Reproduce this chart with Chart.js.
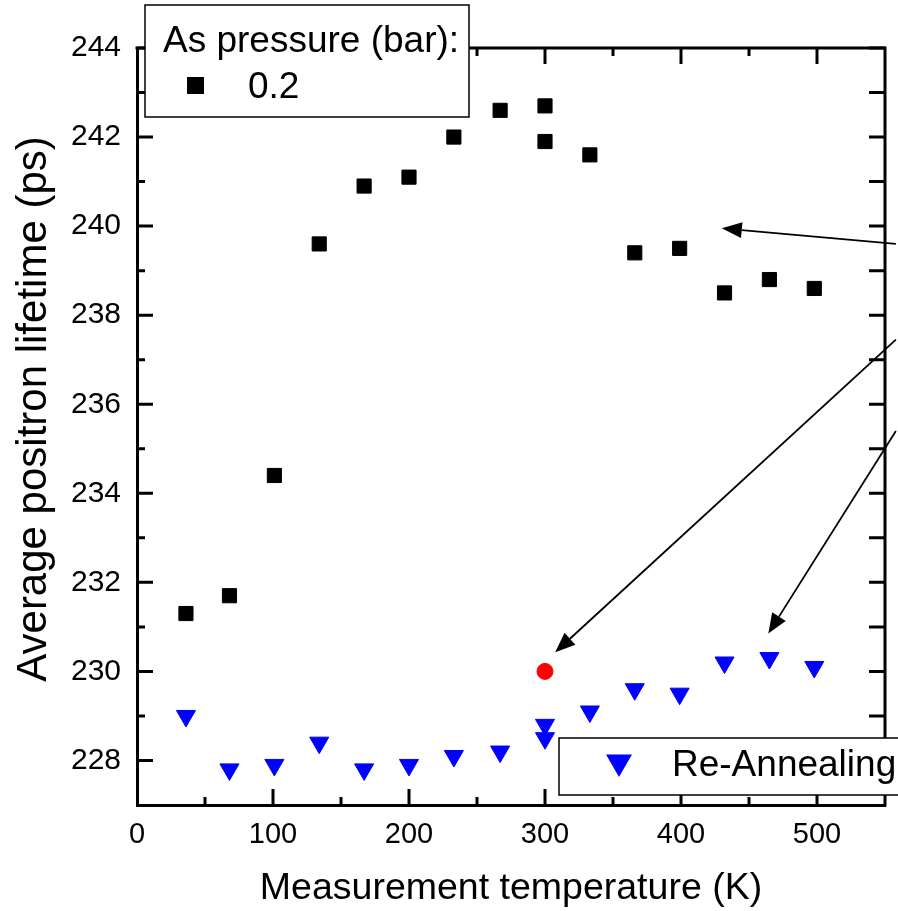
<!DOCTYPE html>
<html>
<head>
<meta charset="utf-8">
<script src="https://cdn.jsdelivr.net/npm/chart.js@4"></script>
<style>
  html, body { margin: 0; padding: 0; background: #fff; overflow: hidden; }
  canvas { display: block; }
</style>
</head>
<body>
<canvas id="lifetimeChart" width="898" height="911"></canvas>
<script>
// data
const temperatures = [36, 68, 101, 134, 167, 200, 233, 267, 300, 300, 333, 366, 399, 432, 465, 498];
const lifetimeAsPressure = [231.3, 231.7, 234.4, 239.6, 240.9, 241.1, 242.0, 242.6, 242.7, 241.9, 241.6, 239.4, 239.5, 238.5, 238.8, 238.6];
const lifetimeReAnnealing = [229.0, 227.8, 227.9, 228.4, 227.8, 227.9, 228.1, 228.2, 228.8, 228.5, 229.1, 229.6, 229.5, 230.2, 230.3, 230.1];
const markedTemperature = [300];
const markedLifetime = [230.0];

const xTicks = [0, 100, 200, 300, 400, 500];
const yTicks = [228, 230, 232, 234, 236, 238, 240, 242, 244];

// arrows coming in from the annotation on the right (data units)
const arrows = [
  { from: [558, 239.6], to: [430, 239.95] },
  { from: [558, 237.45], to: [307.5, 230.43] },
  { from: [558, 235.4], to: [464.2, 230.85] },
];

const FONT = "'Liberation Sans', Arial, sans-serif";

function toPoints(xs, ys) {
  return xs.map((x, i) => ({ x: x, y: ys[i] }));
}

// top/right frame + inward tick marks
const frameTicks = {
  id: "frameTicks",
  beforeDatasetsDraw(chart) {
    const { ctx, chartArea: a, scales } = chart;
    const xs = scales.x, ys = scales.y;
    ctx.save();
    ctx.strokeStyle = "#000";
    ctx.lineWidth = 3;
    ctx.beginPath();
    ctx.moveTo(a.left - 1.5, a.top);
    ctx.lineTo(a.right, a.top);
    ctx.lineTo(a.right, a.bottom + 1.5);
    ctx.stroke();
    ctx.beginPath();
    xs.ticks.forEach((t) => {
      if (t.value <= xs.min || t.value >= xs.max) return;
      const px = xs.getPixelForValue(t.value);
      const len = xTicks.includes(t.value) ? 16 : 8;
      ctx.moveTo(px, a.bottom);
      ctx.lineTo(px, a.bottom - len);
      ctx.moveTo(px, a.top);
      ctx.lineTo(px, a.top + len);
    });
    ys.ticks.forEach((t) => {
      if (t.value <= ys.min || t.value > ys.max) return;
      const py = ys.getPixelForValue(t.value);
      const len = yTicks.includes(t.value) ? 16 : 8;
      ctx.moveTo(a.left, py);
      ctx.lineTo(a.left + len, py);
      ctx.moveTo(a.right, py);
      ctx.lineTo(a.right - 16, py);
    });
    ctx.stroke();
    ctx.restore();
  },
};

// arrows + the two legend boxes
const overlays = {
  id: "overlays",
  afterDraw(chart) {
    const { ctx, scales } = chart;
    const xs = scales.x, ys = scales.y;
    ctx.save();

    // arrows
    ctx.strokeStyle = "#000";
    ctx.fillStyle = "#000";
    ctx.lineWidth = 1.8;
    arrows.forEach((ar) => {
      const x1 = xs.getPixelForValue(ar.from[0]);
      const y1 = ys.getPixelForValue(ar.from[1]);
      const x2 = xs.getPixelForValue(ar.to[0]);
      const y2 = ys.getPixelForValue(ar.to[1]);
      const ang = Math.atan2(y2 - y1, x2 - x1);
      const hl = 20, hw = 8;
      const bx = x2 - hl * Math.cos(ang), by = y2 - hl * Math.sin(ang);
      ctx.beginPath();
      ctx.moveTo(x1, y1);
      ctx.lineTo(bx, by);
      ctx.stroke();
      ctx.beginPath();
      ctx.moveTo(x2, y2);
      ctx.lineTo(bx + hw * Math.sin(ang), by - hw * Math.cos(ang));
      ctx.lineTo(bx - hw * Math.sin(ang), by + hw * Math.cos(ang));
      ctx.closePath();
      ctx.fill();
    });

    const ds = chart.data.datasets;
    ctx.lineWidth = 1.5;
    ctx.textBaseline = "alphabetic";
    ctx.textAlign = "left";
    ctx.font = "37px " + FONT;

    // legend 1
    ctx.fillStyle = "#fff";
    ctx.fillRect(145, 5, 324, 112);
    ctx.strokeStyle = "#000";
    ctx.strokeRect(145, 5, 324, 112);
    ctx.fillStyle = "#000";
    ctx.fillText("As pressure (bar):", 163, 52);
    ctx.fillRect(187, 77, 17, 17);
    ctx.fillText(ds[0].label, 248, 98);

    // legend 2
    ctx.fillStyle = "#fff";
    ctx.fillRect(559, 738, 400, 57);
    ctx.strokeRect(559, 738, 400, 57);
    ctx.fillStyle = ds[1].backgroundColor;
    Chart.helpers.drawPoint(ctx, { pointStyle: "triangle", radius: 15, rotation: 180, borderWidth: 0 }, 619, 762);
    ctx.fillStyle = "#000";
    ctx.fillText(ds[1].label, 672, 776);

    ctx.restore();
  },
};

const ctx = document.getElementById("lifetimeChart");

const data = {
  datasets: [
    {
      label: "0.2",
      data: toPoints(temperatures, lifetimeAsPressure),
      pointStyle: "rect",
      pointRadius: 10,
      backgroundColor: "#000",
      borderColor: "#000",
      borderWidth: 1,
      showLine: false,
    },
    {
      label: "Re-Annealing",
      data: toPoints(temperatures, lifetimeReAnnealing),
      pointStyle: "triangle",
      pointRotation: 180,
      pointRadius: 11,
      backgroundColor: "#0000ff",
      borderColor: "#0000ff",
      borderWidth: 1,
      showLine: false,
    },
    {
      label: "",
      data: toPoints(markedTemperature, markedLifetime),
      pointStyle: "circle",
      pointRadius: 8,
      backgroundColor: "#ff0000",
      borderColor: "#ff0000",
      borderWidth: 1,
      showLine: false,
    },
  ],
};

const config = {
  type: "scatter",
  data: data,
  options: {
    responsive: false,
    animation: false,
    events: [],
    layout: { padding: { top: 48, right: 11, left: 0, bottom: 0 } },
    plugins: {
      legend: { display: false },
      tooltip: { enabled: false },
    },
    scales: {
      x: {
        type: "linear",
        position: "bottom",
        min: 0,
        max: 550,
        grid: { display: false, drawTicks: false },
        border: { display: true, color: "#000", width: 3 },
        ticks: {
          stepSize: 50,
          autoSkip: false,
          maxRotation: 0,
          padding: 13,
          color: "#000",
          font: { family: FONT, size: 29 },
          callback: (v) => (xTicks.includes(v) ? v : ""),
        },
        title: {
          display: true,
          text: "Measurement temperature (K)",
          color: "#000",
          font: { family: FONT, size: 37.5 },
          padding: { top: 0, bottom: 0 },
        },
        afterFit: (s) => { s.height = 106; },
      },
      y: {
        type: "linear",
        position: "left",
        min: 227,
        max: 244,
        grid: { display: false, drawTicks: false },
        border: { display: true, color: "#000", width: 3 },
        ticks: {
          stepSize: 1,
          autoSkip: false,
          padding: 16,
          color: "#000",
          font: { family: FONT, size: 30 },
          callback: (v) => (yTicks.includes(v) ? v : ""),
        },
        title: {
          display: true,
          text: "   Average positron lifetime (ps)",
          color: "#000",
          font: { family: FONT, size: 42 },
          padding: { top: 9, bottom: 0 },
        },
        afterFit: (s) => { s.width = 137; },
      },
    },
  },
  plugins: [frameTicks, overlays],
};

const lifetimeChart = new Chart(ctx, config);
</script>
</body>
</html>
